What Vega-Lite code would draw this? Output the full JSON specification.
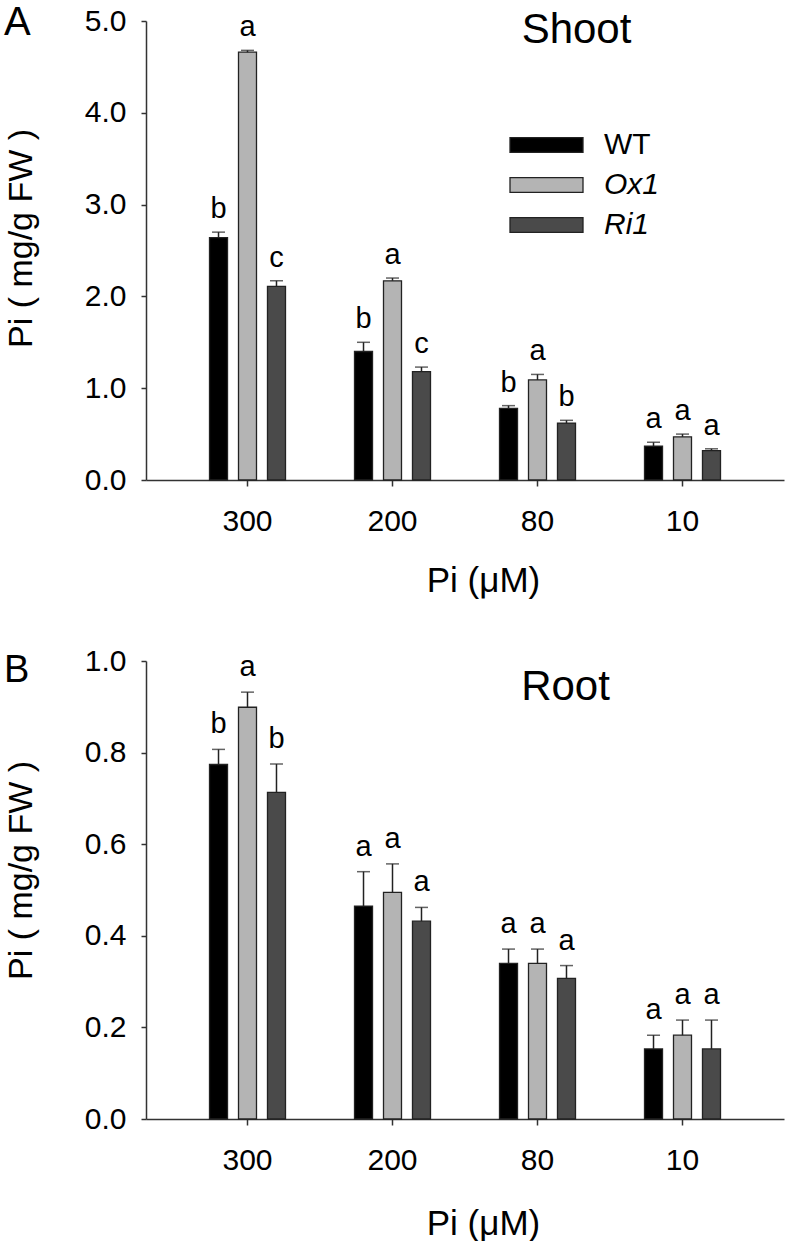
{
  "$schema": "https://vega.github.io/schema/vega-lite/v6.json",
  "background": "white",
  "padding": {"left": 4, "top": 3, "right": 5, "bottom": 0},
  "spacing": 181,
  "bounds": "flush",
  "datasets": {
    "shootData": [
      {"conc": "300", "genotype": "WT", "mean": 2.64, "upper": 2.70, "letter": "b"},
      {"conc": "300", "genotype": "Ox1", "mean": 4.66, "upper": 4.68, "letter": "a"},
      {"conc": "300", "genotype": "Ri1", "mean": 2.11, "upper": 2.17, "letter": "c"},
      {"conc": "200", "genotype": "WT", "mean": 1.40, "upper": 1.50, "letter": "b"},
      {"conc": "200", "genotype": "Ox1", "mean": 2.17, "upper": 2.20, "letter": "a"},
      {"conc": "200", "genotype": "Ri1", "mean": 1.18, "upper": 1.23, "letter": "c"},
      {"conc": "80", "genotype": "WT", "mean": 0.78, "upper": 0.81, "letter": "b"},
      {"conc": "80", "genotype": "Ox1", "mean": 1.09, "upper": 1.15, "letter": "a"},
      {"conc": "80", "genotype": "Ri1", "mean": 0.62, "upper": 0.65, "letter": "b"},
      {"conc": "10", "genotype": "WT", "mean": 0.37, "upper": 0.41, "letter": "a"},
      {"conc": "10", "genotype": "Ox1", "mean": 0.47, "upper": 0.50, "letter": "a"},
      {"conc": "10", "genotype": "Ri1", "mean": 0.32, "upper": 0.34, "letter": "a"}
    ],
    "rootData": [
      {"conc": "300", "genotype": "WT", "mean": 0.774, "upper": 0.807, "letter": "b"},
      {"conc": "300", "genotype": "Ox1", "mean": 0.899, "upper": 0.932, "letter": "a"},
      {"conc": "300", "genotype": "Ri1", "mean": 0.713, "upper": 0.775, "letter": "b"},
      {"conc": "200", "genotype": "WT", "mean": 0.465, "upper": 0.540, "letter": "a"},
      {"conc": "200", "genotype": "Ox1", "mean": 0.495, "upper": 0.557, "letter": "a"},
      {"conc": "200", "genotype": "Ri1", "mean": 0.432, "upper": 0.462, "letter": "a"},
      {"conc": "80", "genotype": "WT", "mean": 0.340, "upper": 0.371, "letter": "a"},
      {"conc": "80", "genotype": "Ox1", "mean": 0.340, "upper": 0.371, "letter": "a"},
      {"conc": "80", "genotype": "Ri1", "mean": 0.307, "upper": 0.335, "letter": "a"},
      {"conc": "10", "genotype": "WT", "mean": 0.153, "upper": 0.183, "letter": "a"},
      {"conc": "10", "genotype": "Ox1", "mean": 0.183, "upper": 0.216, "letter": "a"},
      {"conc": "10", "genotype": "Ri1", "mean": 0.153, "upper": 0.216, "letter": "a"}
    ]
  },
  "vconcat": [
    {
      "width": 638,
      "height": 459,
      "title": {"text": "A", "anchor": "start", "frame": "bounds", "fontSize": 40, "fontWeight": "normal", "baseline": "top", "offset": -37},
      "layer": [
        {
          "data": {"name": "shootData"},
          "mark": {"type": "bar", "stroke": "#222222", "strokeWidth": 1.3},
          "encoding": {
            "x": {"field": "conc", "type": "nominal", "sort": ["300", "200", "80", "10"], "scale": {"paddingInner": 0.4, "paddingOuter": 0.4},
              "axis": {"labelAngle": 0, "title": "Pi (μM)", "tickSize": 6, "labelPadding": 20, "labelFontSize": 30, "titleFontSize": 35, "titleX": 337, "titleY": 83, "titleBaseline": "top", "titleAlign": "center"}},
            "xOffset": {"field": "genotype", "type": "nominal", "sort": ["WT", "Ox1", "Ri1"], "scale": {"paddingInner": 0.379, "paddingOuter": 0.19}},
            "y": {"field": "mean", "type": "quantitative", "scale": {"domain": [0, 5], "nice": false},
              "axis": {"values": [0, 1, 2, 3, 4, 5], "format": ".1f", "title": "Pi ( mg/g FW )", "tickSize": 5, "labelPadding": 15, "labelFontSize": 30, "titleFontSize": 34, "titleX": -108, "titleY": 217, "titleAngle": 270, "titleBaseline": "bottom", "titleAlign": "center"}},
            "color": {"field": "genotype", "type": "nominal", "sort": ["WT", "Ox1", "Ri1"],
              "scale": {"domain": ["WT", "Ox1", "Ri1"], "range": ["#000000", "#b4b4b4", "#4a4a4a"]},
              "legend": {"orient": "none", "legendX": 363, "legendY": 109,
                "encode": {"labels": {"update": {"fontStyle": {"signal": "datum.value === 'WT' ? 'normal' : 'italic'"}}}}}}
          }
        },
        {
          "data": {"name": "shootData"},
          "mark": {"type": "rule", "color": "#222222", "strokeWidth": 1.5},
          "encoding": {
            "x": {"field": "conc", "type": "nominal", "sort": ["300", "200", "80", "10"]},
            "xOffset": {"field": "genotype", "type": "nominal", "sort": ["WT", "Ox1", "Ri1"]},
            "y": {"field": "mean", "type": "quantitative"},
            "y2": {"field": "upper"}
          }
        },
        {
          "data": {"name": "shootData"},
          "mark": {"type": "tick", "color": "#222222", "thickness": 1.5, "size": 13},
          "encoding": {
            "x": {"field": "conc", "type": "nominal", "sort": ["300", "200", "80", "10"]},
            "xOffset": {"field": "genotype", "type": "nominal", "sort": ["WT", "Ox1", "Ri1"]},
            "y": {"field": "upper", "type": "quantitative"}
          }
        },
        {
          "data": {"name": "shootData"},
          "mark": {"type": "text", "dy": -14, "baseline": "alphabetic", "fontSize": 29, "color": "#000000"},
          "encoding": {
            "x": {"field": "conc", "type": "nominal", "sort": ["300", "200", "80", "10"]},
            "xOffset": {"field": "genotype", "type": "nominal", "sort": ["WT", "Ox1", "Ri1"]},
            "y": {"field": "upper", "type": "quantitative"},
            "text": {"field": "letter"}
          }
        },
        {
          "data": {"values": [{"label": "Shoot"}]},
          "mark": {"type": "text", "fontSize": 42, "baseline": "alphabetic", "align": "center", "dx": 39, "color": "#000000"},
          "encoding": {
            "x": {"datum": "80"},
            "y": {"datum": 4.76},
            "text": {"field": "label"}
          }
        }
      ]
    },
    {
      "width": 638,
      "height": 458,
      "title": {"text": "B", "anchor": "start", "frame": "bounds", "fontSize": 38, "fontWeight": "normal", "baseline": "top", "offset": -44},
      "layer": [
        {
          "data": {"name": "rootData"},
          "mark": {"type": "bar", "stroke": "#222222", "strokeWidth": 1.3},
          "encoding": {
            "x": {"field": "conc", "type": "nominal", "sort": ["300", "200", "80", "10"], "scale": {"paddingInner": 0.4, "paddingOuter": 0.4},
              "axis": {"labelAngle": 0, "title": "Pi  (μM)", "tickSize": 6, "labelPadding": 20, "labelFontSize": 30, "titleFontSize": 35, "titleX": 337, "titleY": 87, "titleBaseline": "top", "titleAlign": "center"}},
            "xOffset": {"field": "genotype", "type": "nominal", "sort": ["WT", "Ox1", "Ri1"], "scale": {"paddingInner": 0.379, "paddingOuter": 0.19}},
            "y": {"field": "mean", "type": "quantitative", "scale": {"domain": [0, 1], "nice": false},
              "axis": {"values": [0, 0.2, 0.4, 0.6, 0.8, 1.0], "format": ".1f", "title": "Pi ( mg/g FW )", "tickSize": 5, "labelPadding": 15, "labelFontSize": 30, "titleFontSize": 34, "titleX": -108, "titleY": 209, "titleAngle": 270, "titleBaseline": "bottom", "titleAlign": "center"}},
            "color": {"field": "genotype", "type": "nominal", "sort": ["WT", "Ox1", "Ri1"],
              "scale": {"domain": ["WT", "Ox1", "Ri1"], "range": ["#000000", "#b4b4b4", "#4a4a4a"]},
              "legend": {"orient": "none", "legendX": 364, "legendY": 111,
                "encode": {"labels": {"update": {"fontStyle": {"signal": "datum.value === 'WT' ? 'normal' : 'italic'"}}}}}}
          }
        },
        {
          "data": {"name": "rootData"},
          "mark": {"type": "rule", "color": "#222222", "strokeWidth": 1.5},
          "encoding": {
            "x": {"field": "conc", "type": "nominal", "sort": ["300", "200", "80", "10"]},
            "xOffset": {"field": "genotype", "type": "nominal", "sort": ["WT", "Ox1", "Ri1"]},
            "y": {"field": "mean", "type": "quantitative"},
            "y2": {"field": "upper"}
          }
        },
        {
          "data": {"name": "rootData"},
          "mark": {"type": "tick", "color": "#222222", "thickness": 1.5, "size": 13},
          "encoding": {
            "x": {"field": "conc", "type": "nominal", "sort": ["300", "200", "80", "10"]},
            "xOffset": {"field": "genotype", "type": "nominal", "sort": ["WT", "Ox1", "Ri1"]},
            "y": {"field": "upper", "type": "quantitative"}
          }
        },
        {
          "data": {"name": "rootData"},
          "mark": {"type": "text", "dy": -16, "baseline": "alphabetic", "fontSize": 29, "color": "#000000"},
          "encoding": {
            "x": {"field": "conc", "type": "nominal", "sort": ["300", "200", "80", "10"]},
            "xOffset": {"field": "genotype", "type": "nominal", "sort": ["WT", "Ox1", "Ri1"]},
            "y": {"field": "upper", "type": "quantitative"},
            "text": {"field": "letter"}
          }
        },
        {
          "data": {"values": [{"label": "Root"}]},
          "mark": {"type": "text", "fontSize": 42, "baseline": "alphabetic", "align": "center", "dx": 28, "color": "#000000"},
          "encoding": {
            "x": {"datum": "80"},
            "y": {"datum": 0.915},
            "text": {"field": "label"}
          }
        }
      ]
    }
  ],
  "config": {
    "font": "Liberation Sans",
    "view": {"stroke": null},
    "axis": {"grid": false, "labelFont": "Liberation Sans", "titleFont": "Liberation Sans", "domainColor": "#333333", "tickColor": "#333333", "labelColor": "#000000", "titleColor": "#000000", "titleFontWeight": "normal", "domainWidth": 1.5, "tickWidth": 1.5},
    "legend": {"title": null, "symbolType": "M-1,-0.2H1V0.2H-1Z", "symbolSize": 5329, "symbolStrokeColor": "#222222", "symbolStrokeWidth": 1.3, "symbolOpacity": 1, "clipHeight": 30, "rowPadding": 10, "labelFontSize": 30, "labelOffset": 20, "padding": 0, "labelFont": "Liberation Sans", "labelColor": "#000000", "labelLimit": 200},
    "text": {"font": "Liberation Sans"},
    "title": {"font": "Liberation Sans", "fontWeight": "normal", "color": "#000000"}
  }
}
